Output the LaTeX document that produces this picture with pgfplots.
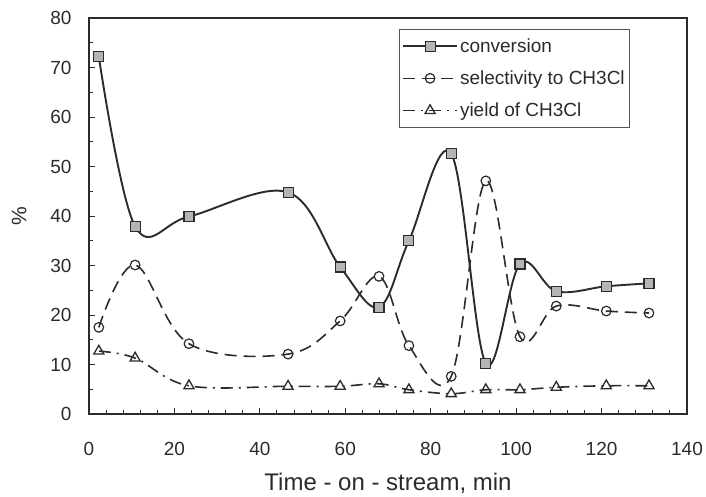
\documentclass[border=0pt]{standalone}
\usepackage{pgfplots}
\pgfplotsset{compat=1.18}
\usepackage{fontspec}
\setmainfont{Liberation Sans}

\definecolor{ink}{HTML}{2B2B2B}
\definecolor{markfill}{HTML}{B4B4B4}

% conversion, selectivity to CH3Cl and yield of CH3Cl vs time on stream
\pgfplotstableread{
t     conv  sel   yld
2.3   72.2  17.5  12.7
10.8  37.9  30.1  11.3
23.4  39.9  14.2  5.7
46.6  44.8  12.1  5.6
58.8  29.7  18.8  5.6
67.9  21.6  27.8  6.1
74.9  35.0  13.8  4.9
84.8  52.6  7.6   4.1
92.9  10.2  47.1  4.9
100.9 30.3  15.6  4.9
109.4 24.8  21.8  5.4
121.1 25.8  20.8  5.7
131.1 26.4  20.4  5.7
}\datatable

\begin{document}
\begin{tikzpicture}
\begin{axis}[
  name=ax,
  scale only axis,
  width=598pt, height=396pt,
  xmin=0, xmax=140, ymin=0, ymax=80,
  xtick={0,20,...,140}, ytick={0,10,...,80},
  minor x tick num=4, minor y tick num=1,
  tick align=inside,
  xtick pos=bottom, ytick pos=left,
  major tick length=6pt, minor tick length=4pt,
  every tick/.style={ink, line width=0.9pt},
  axis line style={ink, line width=1.6pt},
  /pgf/number format/assume math mode=true,
  tick label style={font=\fontsize{19}{22}\selectfont, text=ink},
  xticklabel style={yshift=-25pt},
  yticklabel style={xshift=-14pt},
  xlabel={Time - on - stream, min},
  ylabel={\%},
  label style={text=ink},
  xlabel style={font=\fontsize{24}{28}\selectfont, at={(axis description cs:0.5,-0.174)}, anchor=center},
  ylabel style={font=\fontsize{21}{25}\selectfont, at={(axis description cs:-0.117,0.5)}, anchor=center},
  legend style={
    at={(axis description cs:0.518,0.972)}, anchor=north west,
    draw=ink!80, line width=0.7pt,
    font=\fontsize{19}{22}\selectfont, text=ink,
    row sep=13pt, inner xsep=3pt, inner ysep=7pt,
    legend cell align=left,
  },
  legend image code/.code={
    \draw[mark repeat=2,mark phase=2] plot coordinates {(0pt,0pt)(27pt,0pt)(54pt,0pt)};
  },
]
\addplot[ink, line width=1.9pt, smooth, tension=0.6,
  mark=square*, mark size=5pt,
  mark options={solid, fill=markfill, draw=ink, line width=1.1pt}]
  table[x=t, y=conv] {\datatable};
\addlegendentry{conversion}

\addplot[ink, line width=1.6pt, smooth, tension=0.6,
  dash pattern=on 12pt off 7pt,
  mark=o, mark size=4.8pt,
  mark options={solid, draw=ink, line width=1.2pt}]
  table[x=t, y=sel] {\datatable};
\addlegendentry{selectivity to CH3Cl}

\addplot[ink, line width=1.6pt, smooth, tension=0.6,
  dash pattern=on 12pt off 6pt on 2pt off 6pt,
  mark=triangle, mark size=5.8pt,
  mark options={solid, draw=ink, line width=1.3pt}]
  table[x=t, y=yld] {\datatable};
\addlegendentry{yield of CH3Cl}
\end{axis}
\pgfresetboundingbox
\path ([xshift=-89pt,yshift=-83pt]ax.south west) rectangle ([xshift=19pt,yshift=18pt]ax.north east);
\end{tikzpicture}
\end{document}
